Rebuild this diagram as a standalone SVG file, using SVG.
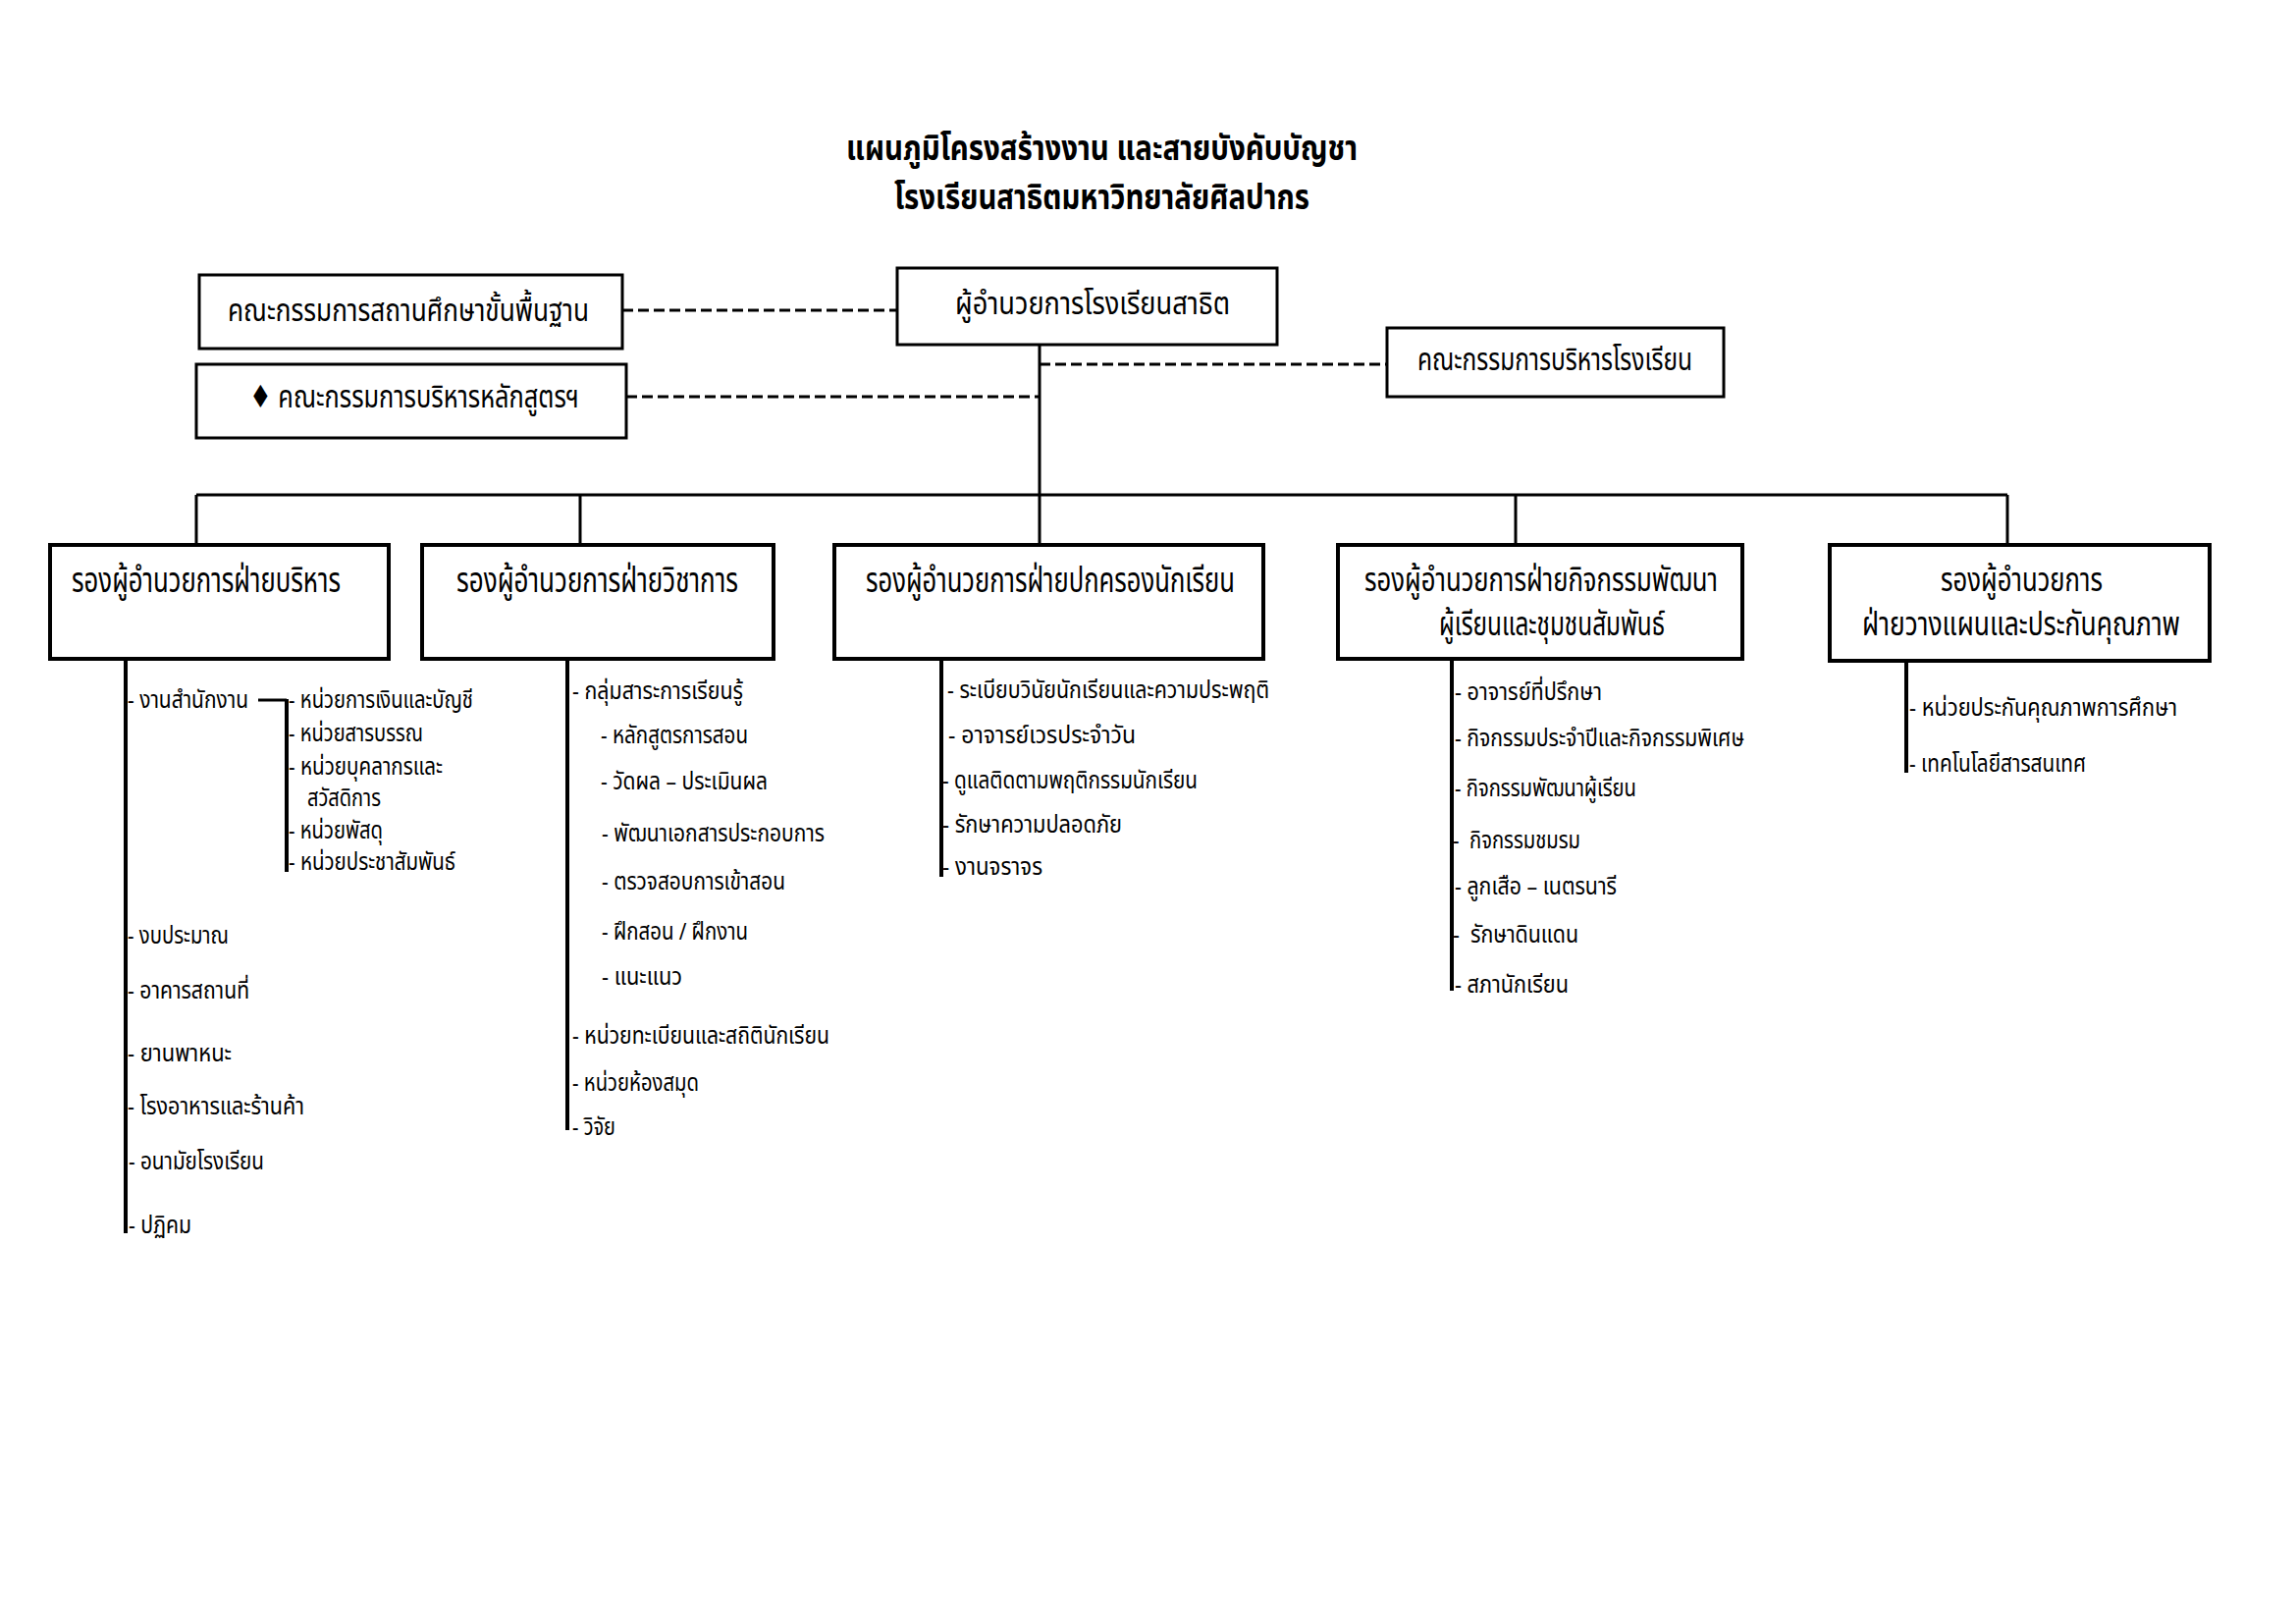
<svg xmlns="http://www.w3.org/2000/svg" width="2339" height="1654" viewBox="0 0 2339 1654">
<style>
.t{font-family:"Noto Sans Thai","Noto Sans","DejaVu Sans",sans-serif;fill:#000}
.title{font-size:35px;font-weight:bold}
.bt{font-size:32px}
.bt2{font-size:36px}
.bt3{font-size:34px}
.it{font-size:24px}
.box{fill:#fff;stroke:#000;stroke-width:3}
.box2{fill:#fff;stroke:#000;stroke-width:4}
.ln{stroke:#000;fill:none;stroke-width:3}
.bar{stroke:#000;fill:none;stroke-width:4}
.dash{stroke:#000;fill:none;stroke-width:3;stroke-dasharray:11 5}
.pre{white-space:pre}
</style>
<rect width="2339" height="1654" fill="#fff"/>
<g id="title">
<text class="t title" x="862" y="163" textLength="521" lengthAdjust="spacingAndGlyphs">แผนภูมิโครงสร้างงาน และสายบังคับบัญชา</text>
<text class="t title" x="911" y="213" textLength="423" lengthAdjust="spacingAndGlyphs">โรงเรียนสาธิตมหาวิทยาลัยศิลปากร</text>
</g>
<g id="connectors">
<line class="dash" x1="634" y1="316" x2="914" y2="316"/>
<line class="dash" x1="638" y1="404" x2="1059" y2="404"/>
<line class="dash" x1="1059" y1="371" x2="1413" y2="371"/>
<line class="ln" x1="1059" y1="351" x2="1059" y2="504"/>
<line class="ln" x1="200" y1="504" x2="2045" y2="504"/>
<line class="ln" x1="200" y1="504" x2="200" y2="555"/>
<line class="ln" x1="591" y1="504" x2="591" y2="555"/>
<line class="ln" x1="1059" y1="504" x2="1059" y2="555"/>
<line class="ln" x1="1544" y1="504" x2="1544" y2="555"/>
<line class="ln" x1="2045" y1="504" x2="2045" y2="555"/>
<line class="bar" x1="128" y1="671" x2="128" y2="1256"/>
<line class="ln" x1="263" y1="713" x2="292" y2="713"/>
<line class="bar" x1="292" y1="712" x2="292" y2="888"/>
<line class="bar" x1="578" y1="671" x2="578" y2="1151"/>
<line class="bar" x1="959" y1="671" x2="959" y2="893"/>
<line class="bar" x1="1479" y1="671" x2="1479" y2="1009"/>
<line class="bar" x1="1942" y1="673" x2="1942" y2="787"/>
</g>
<g id="n-director">
<rect class="box" x="914" y="273" width="387" height="78"/>
<text class="t bt" x="973" y="320" textLength="280" lengthAdjust="spacingAndGlyphs">ผู้อำนวยการโรงเรียนสาธิต</text>
</g>
<g id="n-basic-committee">
<rect class="box" x="203" y="280" width="431" height="75"/>
<text class="t bt" x="232" y="327" textLength="368" lengthAdjust="spacingAndGlyphs">คณะกรรมการสถานศึกษาขั้นพื้นฐาน</text>
</g>
<g id="n-curriculum-committee">
<rect class="box" x="200" y="371" width="438" height="75"/>
<text class="t bt" x="254" y="415" textLength="336" lengthAdjust="spacingAndGlyphs">♦ คณะกรรมการบริหารหลักสูตรฯ</text>
</g>
<g id="n-school-committee">
<rect class="box" x="1413" y="334" width="343" height="70"/>
<text class="t bt" x="1444" y="377" textLength="280" lengthAdjust="spacingAndGlyphs">คณะกรรมการบริหารโรงเรียน</text>
</g>
<g id="n-admin">
<rect class="box2" x="51" y="555" width="345" height="116"/>
<text class="t bt2" x="73" y="603" textLength="274" lengthAdjust="spacingAndGlyphs">รองผู้อำนวยการฝ่ายบริหาร</text>
</g>
<g id="n-academic">
<rect class="box2" x="430" y="555" width="358" height="116"/>
<text class="t bt2" x="465" y="603" textLength="287" lengthAdjust="spacingAndGlyphs">รองผู้อำนวยการฝ่ายวิชาการ</text>
</g>
<g id="n-student-affairs">
<rect class="box2" x="850" y="555" width="437" height="116"/>
<text class="t bt2" x="882" y="603" textLength="376" lengthAdjust="spacingAndGlyphs">รองผู้อำนวยการฝ่ายปกครองนักเรียน</text>
</g>
<g id="n-activities">
<rect class="box2" x="1363" y="555" width="412" height="116"/>
<text class="t bt3"><tspan x="1390" y="602" textLength="360" lengthAdjust="spacingAndGlyphs">รองผู้อำนวยการฝ่ายกิจกรรมพัฒนา</tspan><tspan x="1466" y="647" textLength="230" lengthAdjust="spacingAndGlyphs">ผู้เรียนและชุมชนสัมพันธ์</tspan></text>
</g>
<g id="n-planning">
<rect class="box2" x="1864" y="555" width="387" height="118"/>
<text class="t bt3"><tspan x="1977" y="602" textLength="165" lengthAdjust="spacingAndGlyphs">รองผู้อำนวยการ</tspan><tspan x="1897" y="647" textLength="324" lengthAdjust="spacingAndGlyphs">ฝ่ายวางแผนและประกันคุณภาพ</tspan></text>
</g>
<g id="list-admin">
<text class="t it" x="130" y="721" textLength="123" lengthAdjust="spacingAndGlyphs">- งานสำนักงาน</text>
<text class="t it" x="294" y="721" textLength="188" lengthAdjust="spacingAndGlyphs">- หน่วยการเงินและบัญชี</text>
<text class="t it" x="294" y="755" textLength="137" lengthAdjust="spacingAndGlyphs">- หน่วยสารบรรณ</text>
<text class="t it" x="294" y="789" textLength="157" lengthAdjust="spacingAndGlyphs">- หน่วยบุคลากรและ</text>
<text class="t it" x="313" y="821" textLength="75" lengthAdjust="spacingAndGlyphs">สวัสดิการ</text>
<text class="t it" x="294" y="854" textLength="96" lengthAdjust="spacingAndGlyphs">- หน่วยพัสดุ</text>
<text class="t it" x="294" y="886" textLength="170" lengthAdjust="spacingAndGlyphs">- หน่วยประชาสัมพันธ์</text>
<text class="t it" x="130" y="961" textLength="103" lengthAdjust="spacingAndGlyphs">- งบประมาณ</text>
<text class="t it" x="130" y="1017" textLength="124" lengthAdjust="spacingAndGlyphs">- อาคารสถานที่</text>
<text class="t it" x="130" y="1081" textLength="106" lengthAdjust="spacingAndGlyphs">- ยานพาหนะ</text>
<text class="t it" x="130" y="1135" textLength="180" lengthAdjust="spacingAndGlyphs">- โรงอาหารและร้านค้า</text>
<text class="t it" x="131" y="1191" textLength="138" lengthAdjust="spacingAndGlyphs">- อนามัยโรงเรียน</text>
<text class="t it" x="131" y="1256" textLength="64" lengthAdjust="spacingAndGlyphs">- ปฏิคม</text>
</g>
<g id="list-academic">
<text class="t it" x="583" y="712" textLength="174" lengthAdjust="spacingAndGlyphs">- กลุ่มสาระการเรียนรู้</text>
<text class="t it" x="612" y="757" textLength="150" lengthAdjust="spacingAndGlyphs">- หลักสูตรการสอน</text>
<text class="t it" x="612" y="804" textLength="170" lengthAdjust="spacingAndGlyphs">- วัดผล – ประเมินผล</text>
<text class="t it" x="613" y="857" textLength="227" lengthAdjust="spacingAndGlyphs">- พัฒนาเอกสารประกอบการ</text>
<text class="t it" x="613" y="906" textLength="187" lengthAdjust="spacingAndGlyphs">- ตรวจสอบการเข้าสอน</text>
<text class="t it" x="613" y="957" textLength="149" lengthAdjust="spacingAndGlyphs">- ฝึกสอน / ฝึกงาน</text>
<text class="t it" x="613" y="1003" textLength="82" lengthAdjust="spacingAndGlyphs">- แนะแนว</text>
<text class="t it" x="583" y="1063" textLength="262" lengthAdjust="spacingAndGlyphs">- หน่วยทะเบียนและสถิตินักเรียน</text>
<text class="t it" x="583" y="1111" textLength="129" lengthAdjust="spacingAndGlyphs">- หน่วยห้องสมุด</text>
<text class="t it" x="583" y="1156" textLength="44" lengthAdjust="spacingAndGlyphs">- วิจัย</text>
</g>
<g id="list-student-affairs">
<text class="t it" x="965" y="711" textLength="328" lengthAdjust="spacingAndGlyphs">- ระเบียบวินัยนักเรียนและความประพฤติ</text>
<text class="t it" x="966" y="757" textLength="191" lengthAdjust="spacingAndGlyphs">- อาจารย์เวรประจำวัน</text>
<text class="t it" x="960" y="803" textLength="260" lengthAdjust="spacingAndGlyphs">- ดูแลติดตามพฤติกรรมนักเรียน</text>
<text class="t it" x="960" y="848" textLength="183" lengthAdjust="spacingAndGlyphs">- รักษาความปลอดภัย</text>
<text class="t it" x="960" y="891" textLength="102" lengthAdjust="spacingAndGlyphs">- งานจราจร</text>
</g>
<g id="list-activities">
<text class="t it" x="1482" y="713" textLength="150" lengthAdjust="spacingAndGlyphs">- อาจารย์ที่ปรึกษา</text>
<text class="t it" x="1482" y="760" textLength="295" lengthAdjust="spacingAndGlyphs">- กิจกรรมประจำปีและกิจกรรมพิเศษ</text>
<text class="t it" x="1482" y="811" textLength="185" lengthAdjust="spacingAndGlyphs">- กิจกรรมพัฒนาผู้เรียน</text>
<text class="t it pre" x="1480" y="864" textLength="130" lengthAdjust="spacingAndGlyphs">-  กิจกรรมชมรม</text>
<text class="t it" x="1482" y="911" textLength="165" lengthAdjust="spacingAndGlyphs">- ลูกเสือ – เนตรนารี</text>
<text class="t it pre" x="1480" y="960" textLength="128" lengthAdjust="spacingAndGlyphs">-  รักษาดินแดน</text>
<text class="t it" x="1482" y="1011" textLength="116" lengthAdjust="spacingAndGlyphs">- สภานักเรียน</text>
</g>
<g id="list-planning">
<text class="t it" x="1945" y="729" textLength="273" lengthAdjust="spacingAndGlyphs">- หน่วยประกันคุณภาพการศึกษา</text>
<text class="t it" x="1945" y="786" textLength="180" lengthAdjust="spacingAndGlyphs">- เทคโนโลยีสารสนเทศ</text>
</g>
</svg>
